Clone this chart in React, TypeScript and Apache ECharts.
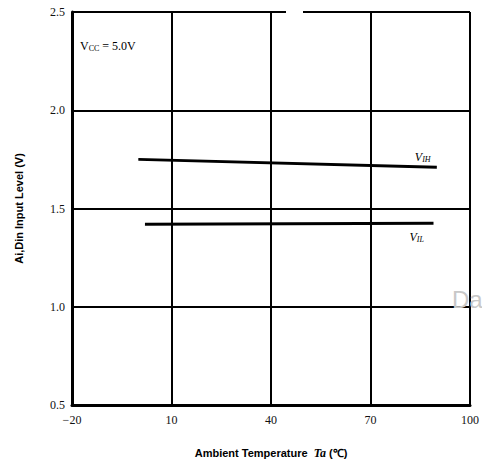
import React, { useEffect, useRef } from "react";
import * as echarts from "echarts";

const xTicks = [-20, 10, 40, 70, 100];
const yTicks = [0.5, 1.0, 1.5, 2.0, 2.5];
const vihTemp = [0, 90];
const vihVolt = [1.75, 1.71];
const vilTemp = [2, 89];
const vilVolt = [1.42, 1.425];

const serif = "Liberation Serif";

export default function App() {
  const ref = useRef<HTMLDivElement>(null);
  useEffect(() => {
    const chart = echarts.init(ref.current!, null, { renderer: "svg" });
    const pts = (xs: number[], ys: number[]) => xs.map((x, i) => [x, ys[i]]);
    const labelRich = {
      v: { fontFamily: serif, fontStyle: "italic", fontSize: 12, color: "#000" },
      s: { fontFamily: serif, fontStyle: "italic", fontSize: 8, color: "#000", verticalAlign: "bottom", padding: [4, 0, 0, 0] },
    };
    chart.setOption({
      animation: false,
      backgroundColor: "#ffffff",
      grid: { left: 72, right: 11, top: 12, bottom: 62, containLabel: false },
      xAxis: {
        type: "value",
        min: xTicks[0],
        max: xTicks[xTicks.length - 1],
        interval: 30,
        axisLine: { show: true, onZero: false, lineStyle: { color: "#000", width: 3 } },
        axisTick: { show: false },
        axisLabel: {
          color: "#111",
          fontFamily: serif,
          fontSize: 12,
          margin: 9,
          formatter: (v: number) => (v < 0 ? "\u2212" + Math.abs(v) : String(v)),
        },
        splitLine: { show: true, lineStyle: { color: "#000", width: 2 } },
        name: "Ambient Temperature  {it|Ta} (\u2103)",
        nameLocation: "middle",
        nameGap: 42,
        nameTextStyle: {
          color: "#000",
          fontFamily: "Liberation Sans",
          fontWeight: "bold",
          fontSize: 11,
          rich: {
            it: { fontFamily: serif, fontStyle: "italic", fontSize: 12, color: "#000" },
          },
        },
      },
      yAxis: {
        type: "value",
        min: yTicks[0],
        max: yTicks[yTicks.length - 1],
        interval: 0.5,
        axisLine: { show: true, onZero: false, lineStyle: { color: "#000", width: 3 } },
        axisTick: { show: false },
        axisLabel: {
          color: "#111",
          fontFamily: serif,
          fontSize: 12,
          margin: 7,
          formatter: (v: number) => v.toFixed(1),
        },
        splitLine: { show: true, lineStyle: { color: "#000", width: 2 } },
        name: "Ai,Din Input Level (V)",
        nameLocation: "middle",
        nameGap: 48,
        nameTextStyle: {
          color: "#000",
          fontFamily: "Liberation Sans",
          fontWeight: "bold",
          fontSize: 11,
        },
      },
      series: [
        {
          type: "line",
          data: pts(vihTemp, vihVolt),
          showSymbol: false,
          symbol: "none",
          lineStyle: { color: "#000", width: 3 },
          endLabel: {
            show: true,
            formatter: "{v|V}{s|IH}",
            offset: [-30, -10],
            rich: labelRich,
          },
        },
        {
          type: "line",
          data: pts(vilTemp, vilVolt),
          showSymbol: false,
          symbol: "none",
          lineStyle: { color: "#000", width: 3 },
          endLabel: {
            show: true,
            formatter: "{v|V}{s|IL}",
            offset: [-32, 14],
            rich: labelRich,
          },
        },
      ],
      graphic: [
        {
          type: "rect",
          shape: { x: 286, y: 8, width: 17, height: 8 },
          style: { fill: "#ffffff" },
          z: 100,
        },
        {
          type: "text",
          x: 80,
          y: 40,
          style: {
            text: "{v|V}{s|CC} = 5.0V",
            rich: {
              v: { fontFamily: serif, fontSize: 12, color: "#000" },
              s: { fontFamily: serif, fontSize: 8, color: "#000", padding: [4, 0, 0, 0] },
            },
            fontFamily: serif,
            fontSize: 12,
            fill: "#000",
          },
          z: 100,
        },
        {
          type: "text",
          x: 452,
          y: 287,
          style: { text: "Da", fontFamily: "Liberation Sans", fontSize: 24, fill: "#c8c8c8" },
          z: 100,
        },
      ],
    });
    return () => chart.dispose();
  }, []);
  return <div ref={ref} style={{ width: 482, height: 467, position: "absolute", left: 0, top: 0 }} />;
}
